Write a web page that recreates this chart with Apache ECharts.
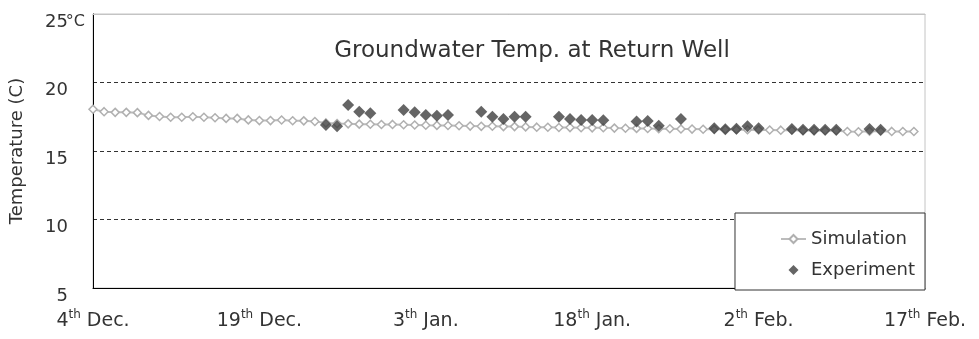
<!DOCTYPE html>
<html>
<head>
<meta charset="utf-8">
<script src="https://cdn.jsdelivr.net/npm/echarts@6/dist/echarts.min.js"></script>
<style>
  html, body { margin: 0; padding: 0; background: #fff; }
  #chart { width: 979px; height: 339px; }
</style>
</head>
<body>
<div id="chart"></div>
<script>
// Simulated groundwater temperature, one value per day starting 4 Dec.
var simTemps = [
  18.05, 17.87, 17.82, 17.82, 17.80, 17.60, 17.52, 17.46, 17.46, 17.50,
  17.46, 17.43, 17.38, 17.38, 17.27, 17.22, 17.22, 17.26, 17.21, 17.20,
  17.15, 17.05, 17.00, 16.98, 16.96, 16.95, 16.93, 16.94, 16.92, 16.90,
  16.88, 16.87, 16.86, 16.84, 16.82, 16.80, 16.81, 16.78, 16.78, 16.76,
  16.74, 16.73, 16.72, 16.71, 16.70, 16.69, 16.70, 16.67, 16.66, 16.65,
  16.64, 16.63, 16.62, 16.61, 16.60, 16.59, 16.58, 16.57, 16.56, 16.55,
  16.54, 16.53, 16.52, 16.51, 16.50, 16.49, 16.48, 16.47, 16.42, 16.40,
  16.44, 16.44, 16.43, 16.42, 16.42
];

// Measured temperatures (day offset from 4 Dec. and value)
var expDays = [21, 22, 23, 24, 25, 28, 29, 30, 31, 32, 35, 36, 37, 38, 39,
               42, 43, 44, 45, 46, 49, 50, 51, 53, 56, 57, 58, 59, 60,
               63, 64, 65, 66, 67, 70, 71];
var expTemps = [16.90, 16.80, 18.35, 17.87, 17.75, 18.00, 17.82, 17.63, 17.58, 17.63,
                17.87, 17.50, 17.34, 17.50, 17.50,
                17.50, 17.34, 17.26, 17.26, 17.24, 17.15, 17.19, 16.85, 17.34,
                16.66, 16.58, 16.62, 16.80, 16.66,
                16.60, 16.55, 16.55, 16.55, 16.55, 16.60, 16.55];

// x-axis tick labels
var tickDays = [0, 15, 30, 45, 60, 75];
var tickNums = ['4', '19', '3', '18', '2', '17'];
var tickSups = ['th', 'th', 'th', 'th', 'th', 'th'];
var tickMonths = ['Dec.', 'Dec.', 'Jan.', 'Jan.', 'Feb.', 'Feb.'];

var FONT = 'DejaVu Sans';
var TXT = '#333333';

var simData = simTemps.map(function (v, i) { return [i, v]; });
var expData = expDays.map(function (d, i) { return [d, expTemps[i]]; });

var chart = echarts.init(document.getElementById('chart'), null, { renderer: 'canvas' });

chart.setOption({
  animation: false,
  backgroundColor: '#ffffff',
  title: {
    text: 'Groundwater Temp. at Return Well',
    left: 527,
    top: 35,
    textAlign: 'center',
    textStyle: { fontFamily: FONT, fontSize: 23, fontWeight: 'normal', color: TXT }
  },
  grid: {
    left: 93, right: 54, top: 14, bottom: 51,
    show: true,
    borderColor: '#c4c4c4',
    borderWidth: 1,
    backgroundColor: 'transparent'
  },
  legend: {
    orient: 'vertical',
    right: 54,
    bottom: 49,
    padding: [17, 10, 11, 45],
    itemWidth: 25,
    itemHeight: 10,
    itemGap: 13,
    borderColor: '#333',
    borderWidth: 1,
    backgroundColor: '#fff',
    textStyle: { fontFamily: FONT, fontSize: 18, color: TXT },
    data: [
      { name: 'Simulation' },
      { name: 'Experiment', icon: 'path://M5,0L10,5L5,10L0,5Z' }
    ]
  },
  xAxis: [{
    type: 'value',
    min: 0,
    max: 75,
    interval: 15,
    axisLine: { show: true, lineStyle: { color: '#000', width: 1 } },
    axisTick: { show: false },
    splitLine: { show: false },
    axisLabel: {
      margin: 21,
      color: TXT,
      formatter: function (v) {
        var i = tickDays.indexOf(v);
        if (i < 0) return '';
        return '{n|' + tickNums[i] + '}{s|' + tickSups[i] + '}{n| ' + tickMonths[i] + '}';
      },
      rich: {
        n: { fontFamily: FONT, fontSize: 19, color: TXT, lineHeight: 22, verticalAlign: 'bottom' },
        s: { fontFamily: FONT, fontSize: 12, color: TXT, lineHeight: 22, verticalAlign: 'top', padding: [0, 0, 8, 0] }
      }
    }
  }, {
    type: 'value',
    position: 'top',
    min: 0,
    max: 75,
    z: 5,
    axisLine: { show: true, onZero: false, lineStyle: { color: '#c4c4c4', width: 1 } },
    axisTick: { show: false },
    axisLabel: { show: false },
    splitLine: { show: false }
  }],
  yAxis: {
    type: 'value',
    min: 5,
    max: 25,
    interval: 5,
    name: 'Temperature (C)',
    nameLocation: 'middle',
    nameGap: 67,
    nameTextStyle: { fontFamily: FONT, fontSize: 18, color: TXT },
    axisLine: { show: true, lineStyle: { color: '#000', width: 1 } },
    axisTick: { show: false },
    splitLine: { show: true, lineStyle: { color: '#333', type: [4, 3], width: 1 } },
    axisLabel: {
      margin: 8,
      color: TXT,
      formatter: function (v) {
        // an empty first line pushes each number slightly below its grid line
        if (v === 25) return '{e|\u00a0}\n{n|25}{u|°C}';
        return '{e|\u00a0}\n{n|' + v + '}{p|\u00a0}';
      },
      rich: {
        e: { fontSize: 8, lineHeight: 16 },
        n: { fontFamily: FONT, fontSize: 18, color: TXT, lineHeight: 11 },
        u: { fontFamily: FONT, fontSize: 16, color: TXT, lineHeight: 11, width: 17 },
        p: { fontFamily: FONT, fontSize: 16, lineHeight: 11, width: 17 }
      }
    }
  },
  series: [{
    name: 'Simulation',
    type: 'line',
    data: simData,
    z: 2,
    symbol: 'diamond',
    symbolSize: 8,
    showAllSymbol: true,
    lineStyle: { color: '#bcbcbc', width: 2 },
    itemStyle: { color: '#ffffff', borderColor: '#b0b0b0', borderWidth: 1.5 }
  }, {
    name: 'Experiment',
    type: 'scatter',
    data: expData,
    z: 3,
    symbol: 'diamond',
    symbolSize: 12,
    itemStyle: { color: '#3e3e3e' }
  }]
});
</script>
</body>
</html>
